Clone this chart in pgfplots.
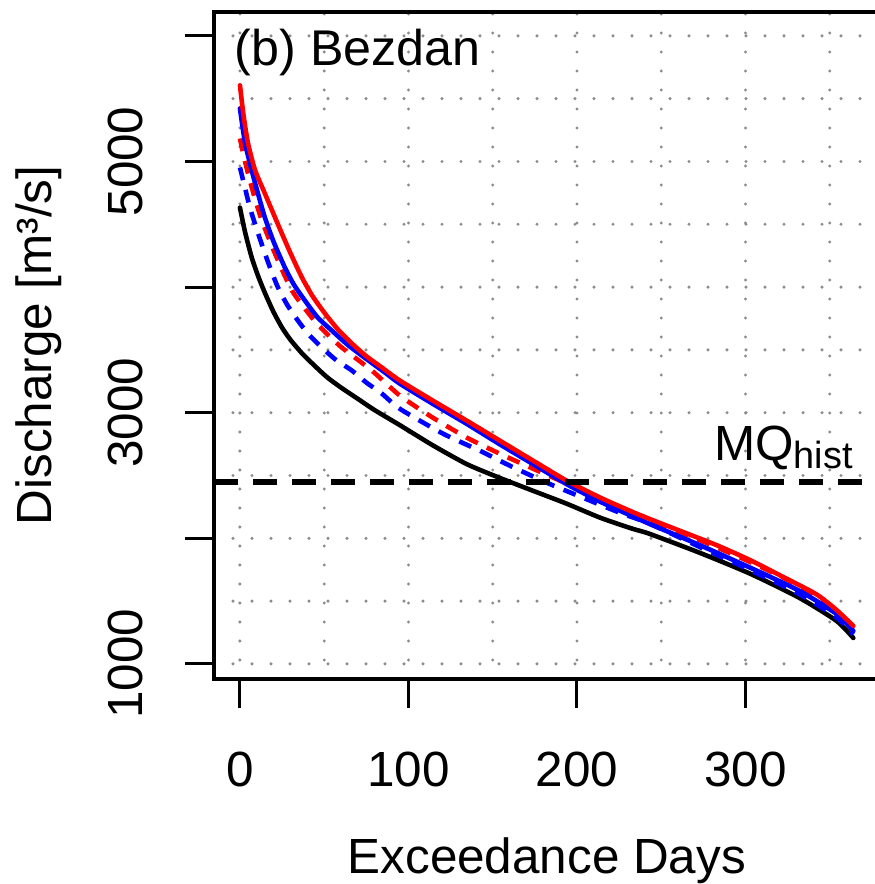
\documentclass[border=0pt]{standalone}
\usepackage{fontspec}
\setmainfont{Liberation Sans}
\usepackage{pgfplots}
\pgfplotsset{compat=1.18}
\newcommand{\bigf}{\fontsize{24.8}{29}\selectfont}
\begin{document}
\begin{tikzpicture}
\begin{axis}[
  name=ax,
  scale only axis,
  width=332.8bp, height=333.5bp,
  xmin=-15.4, xmax=379.6,
  ymin=880, ymax=6190,
  axis line style={line width=1.6bp, black},
  xtick={0,100,200,300}, xticklabels={0,100,200,300},
  ytick={1000,2000,3000,4000,5000,6000},
  yticklabels={1000,{},3000,{},5000,{}},
  minor xtick={50,150,250,350},
  minor ytick={1500,2500,3500,4500,5500},
  grid=both,
  grid style={black!45, line width=1.7bp, dash pattern=on 0bp off 9.5bp, line cap=round},
  xtick pos=left, ytick pos=left,
  tick align=outside,
  major tick length=14.5bp,
  minor tick length=0pt,
  tick style={line width=1.5bp, black},
  /pgf/number format/assume math mode=true,
  xticklabel style={font=\bigf, inner sep=0pt, anchor=north},
  xticklabel shift=22bp,
  yticklabel style={font=\bigf, inner sep=0pt, rotate=90, anchor=base},
  yticklabel shift=21bp,
  xlabel={Exceedance Days},
  ylabel={Discharge [m³/s]},
  xlabel style={font=\bigf, inner sep=0pt, at={(axis description cs:0.5,0)}, anchor=base, yshift=-97bp},
  ylabel style={font=\bigf, inner sep=0pt, at={(axis description cs:-0.2434,0.5)}, anchor=base},
]
% black solid
\addplot[black, line width=2.3bp, line cap=round, line join=round, smooth, tension=0.4] coordinates {
(0,4633) (3,4440) (7,4235) (11,4080) (15,3948) (20,3800) (25,3677) (30,3580) (37,3470) (45,3365) (52,3279) (60,3200) (70,3110) (80,3020) (95,2900) (114.5,2740) (134.7,2590) (154,2482) (174,2378) (194,2275) (214,2163) (233,2076) (243,2036) (273,1884) (303,1717) (332,1526) (354,1343) (364,1207)
};
% red dashed
\addplot[red, line width=2.3bp, dash pattern=on 6.5bp off 5bp, smooth, tension=0.4] coordinates {
(0,5183) (3,5000) (5.9,4849) (9,4700) (13,4530) (20.8,4267) (30.9,3972) (42.7,3757) (50,3650) (60.5,3518) (78.3,3335) (95,3135) (114.5,2960) (134.7,2801) (154.3,2673) (174,2554) (194,2434) (214,2300) (233,2195) (243,2145) (273,1985) (303,1810) (332,1620) (354,1415) (364,1295)
};
% blue dashed
\addplot[blue, line width=2.3bp, dash pattern=on 6.5bp off 5bp, smooth, tension=0.4] coordinates {
(0,4952) (3,4790) (5.9,4633) (9.5,4480) (13.6,4315) (18,4150) (22.6,3996) (28,3860) (34.4,3733) (41,3620) (48.7,3518) (57,3420) (66.5,3335) (75,3240) (84.3,3151) (95,3030) (120.5,2833) (142.4,2697) (160.2,2578) (182.2,2442) (203.6,2323) (225.5,2203) (243.3,2116) (273,1930) (303,1745) (332,1555) (354,1370) (364,1235)
};
% blue solid
\addplot[blue, line width=2.3bp, line cap=round, line join=round, smooth, tension=0.4] coordinates {
(0,5422) (3,5150) (7,4928) (11,4730) (14.8,4554) (20,4360) (26.7,4155) (32,4020) (38.6,3892) (46,3760) (54.6,3653) (64,3540) (74,3438) (86,3320) (95,3230) (114.5,3070) (134.7,2910) (154,2750) (174,2590) (194,2430) (214,2290) (233,2175) (243,2115) (273,1945) (303,1765) (332,1582) (354,1398) (364,1263)
};
% red solid
\addplot[red, line width=2.3bp, line cap=round, line join=round, smooth, tension=0.4] coordinates {
(0,5606) (2,5380) (4.7,5150) (9,4930) (14.8,4745) (20,4580) (24.9,4426) (30,4270) (36.8,4076) (43,3930) (50.5,3789) (58,3665) (66.5,3550) (75,3450) (84.3,3359) (95,3255) (114.5,3096) (134.7,2936) (154.3,2777) (174,2618) (194,2458) (214,2323) (233,2210) (243,2155) (263,2050) (283,1945) (303,1825) (322,1695) (342,1555) (354,1430) (364,1303)
};
% MQ hist
\addplot[black, line width=2.8bp, dash pattern=on 12bp off 7.5bp] coordinates {(-15.4,2450) (379.6,2450)};
\node[anchor=base west, inner sep=0pt, font=\fontsize{25.2}{30}\selectfont] at (axis cs:-3.3,5765) {(b) Bezdan};
\node[anchor=base east, inner sep=0pt, font=\bigf] at (axis cs:363.8,2617) {MQ\raisebox{-4bp}{\fontsize{19}{21}\selectfont hist}};
\end{axis}
\pgfresetboundingbox
\path[use as bounding box] ([shift={(-107bp,-102.5bp)}]ax.south west) rectangle ([shift={(330.5bp,6bp)}]ax.north west);
\end{tikzpicture}
\end{document}
